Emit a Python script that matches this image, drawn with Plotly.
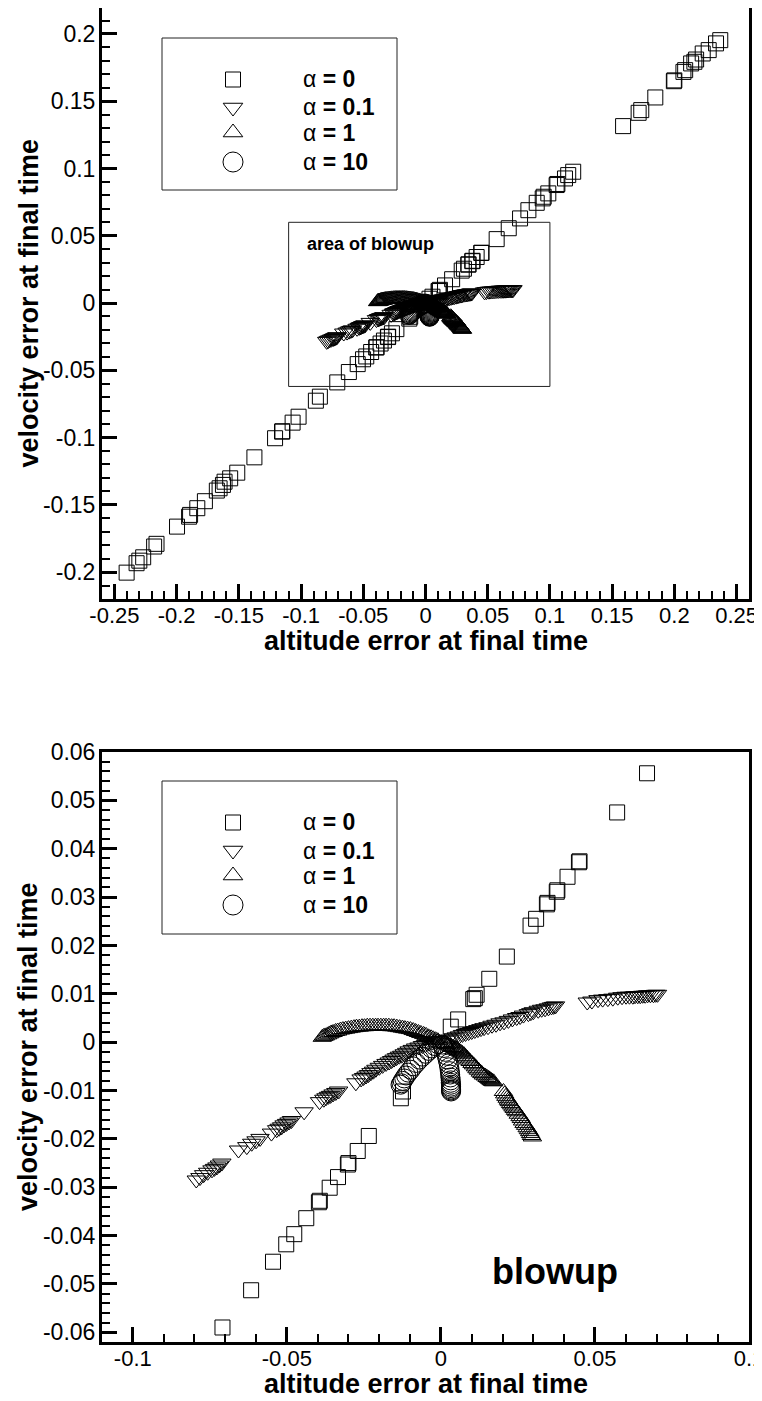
import plotly.graph_objects as go

# ---------------- data (altitude error h, velocity error v) ----------------
# alpha = 0 (squares)
sq_h = [-0.2402, -0.2322, -0.2300, -0.2269, -0.2181, -0.2162, -0.1997, -0.1900, -0.1892,
        -0.1834, -0.1773, -0.1677, -0.1655, -0.1628, -0.1615, -0.1570, -0.1513, -0.1375,
        -0.1209, -0.1153, -0.1150, -0.1068, -0.1020, -0.0881, -0.0849,
        -0.0709, -0.0616, -0.0545, -0.0502, -0.0476, -0.0437, -0.0396, -0.0393, -0.0361,
        -0.0334, -0.0302, -0.0300, -0.0270, -0.0234, -0.0130, -0.0123, 0.0032, 0.0056,
        0.0105, 0.0110, 0.0116, 0.0157, 0.0214, 0.0291, 0.0309, 0.0344, 0.0346, 0.0376,
        0.0378, 0.0411, 0.0448, 0.0450, 0.0572, 0.0669,
        0.0760, 0.0827, 0.0894, 0.0942, 0.0950, 0.0987, 0.1054, 0.1060, 0.1121, 0.1147,
        0.1187, 0.1588, 0.1713, 0.1734, 0.1847, 0.1996, 0.2000, 0.2073, 0.2087, 0.2135,
        0.2161, 0.2175, 0.2228, 0.2276, 0.2335, 0.2369]
sq_v = [-0.2004, -0.1934, -0.1915, -0.1890, -0.1810, -0.1790, -0.1662, -0.1588, -0.1575,
        -0.1525, -0.1473, -0.1394, -0.1377, -0.1352, -0.1328, -0.1303, -0.1261, -0.1147,
        -0.1005, -0.0956, -0.0953, -0.0889, -0.0845, -0.0726, -0.0696,
        -0.0590, -0.0513, -0.0454, -0.0418, -0.0397, -0.0364, -0.0331, -0.0328, -0.0301,
        -0.0279, -0.0253, -0.0250, -0.0225, -0.0194, -0.0116, -0.0102, 0.0032, 0.0047,
        0.0089, 0.0091, 0.0098, 0.0131, 0.0177, 0.0241, 0.0255, 0.0285, 0.0288, 0.0311,
        0.0314, 0.0342, 0.0372, 0.0374, 0.0475, 0.0556,
        0.0629, 0.0690, 0.0745, 0.0778, 0.0790, 0.0815, 0.0877, 0.0885, 0.0926, 0.0951,
        0.0976, 0.1315, 0.1414, 0.1434, 0.1528, 0.1649, 0.1655, 0.1718, 0.1731, 0.1781,
        0.1793, 0.1810, 0.1855, 0.1880, 0.1930, 0.1954]

# alpha = 0.1 (triangles down)
td_h = [-0.0794, -0.0782, -0.0770, -0.0757, -0.0743, -0.0735, -0.0727, -0.0719, -0.0711,
        -0.0657, -0.0630, -0.0614, -0.0600, -0.0587, -0.0550, -0.0533, -0.0525, -0.0517,
        -0.0509, -0.0501, -0.0493, -0.0485, -0.0444, -0.0394, -0.0380, -0.0373, -0.0365,
        -0.0358, -0.0350, -0.0341, -0.0332, -0.0276, -0.0259, -0.0251, -0.0243, -0.0235,
        -0.0227, -0.0219, -0.0211, -0.0200, -0.0189, -0.0178, -0.0168, -0.0160, -0.0152,
        -0.0144, -0.0135, -0.0127, -0.0119, -0.0111, -0.0103, -0.0093, -0.0082, -0.0071,
        -0.0060, -0.0050, -0.0039, -0.0028, -0.0017, -0.0008,
        0.0020, 0.0030, 0.0040, 0.0050, 0.0060, 0.0070, 0.0080, 0.0090, 0.0100, 0.0110,
        0.0120, 0.0130, 0.0140, 0.0153, 0.0166, 0.0179, 0.0192, 0.0205, 0.0219, 0.0232,
        0.0246, 0.0257, 0.0268, 0.0284, 0.0292, 0.0300, 0.0316, 0.0327, 0.0338, 0.0349,
        0.0359, 0.0366, 0.0372, 0.0475, 0.0490, 0.0510, 0.0525, 0.0542, 0.0558, 0.0574,
        0.0588, 0.0601, 0.0612, 0.0623, 0.0630, 0.0639, 0.0647, 0.0655, 0.0663, 0.0671,
        0.0680, 0.0690, 0.0697, 0.0703]
td_v = [-0.0285, -0.0280, -0.0274, -0.0269, -0.0264, -0.0261, -0.0258, -0.0254, -0.0250,
        -0.0223, -0.0216, -0.0209, -0.0204, -0.0199, -0.0188, -0.0181, -0.0178, -0.0175,
        -0.0171, -0.0168, -0.0165, -0.0162, -0.0144, -0.0123, -0.0118, -0.0115, -0.0112,
        -0.0110, -0.0107, -0.0104, -0.0101, -0.0084, -0.0076, -0.0073, -0.0070, -0.0067,
        -0.0063, -0.0060, -0.0056, -0.0052, -0.0048, -0.0044, -0.0041, -0.0038, -0.0035,
        -0.0032, -0.0029, -0.0027, -0.0024, -0.0021, -0.0018, -0.0015, -0.0012, -0.0010,
        -0.0007, -0.0005, -0.0002, 0.0000, 0.0003, 0.0002,
        0.0004, 0.0006, 0.0009, 0.0011, 0.0013, 0.0016, 0.0018, 0.0020, 0.0022, 0.0024,
        0.0026, 0.0028, 0.0030, 0.0032, 0.0035, 0.0037, 0.0040, 0.0042, 0.0045, 0.0048,
        0.0051, 0.0053, 0.0056, 0.0059, 0.0061, 0.0063, 0.0066, 0.0068, 0.0069, 0.0071,
        0.0073, 0.0074, 0.0075, 0.0083, 0.0085, 0.0088, 0.0089, 0.0090, 0.0091, 0.0093,
        0.0094, 0.0095, 0.0095, 0.0095, 0.0096, 0.0096, 0.0096, 0.0097, 0.0097, 0.0098,
        0.0098, 0.0098, 0.0099, 0.0099]

# alpha = 1 (triangles up)
tu_h = [-0.0385, -0.0380, -0.0375, -0.0368, -0.0362, -0.0356, -0.0350, -0.0342, -0.0335,
        -0.0326, -0.0318, -0.0309, -0.0300, -0.0291, -0.0282, -0.0274, -0.0265, -0.0256,
        -0.0248, -0.0239, -0.0230, -0.0221, -0.0212, -0.0204, -0.0195, -0.0186, -0.0178,
        -0.0169, -0.0160, -0.0152, -0.0143, -0.0134, -0.0125, -0.0117, -0.0108, -0.0099,
        -0.0090, -0.0082, -0.0073, -0.0065, -0.0056, -0.0048, -0.0040, -0.0032, -0.0025,
        -0.0017, -0.0010,
        0.0010, 0.0015, 0.0020, 0.0025, 0.0030, 0.0035, 0.0040, 0.0045, 0.0050, 0.0055,
        0.0060, 0.0065, 0.0069, 0.0075, 0.0080, 0.0085, 0.0090, 0.0095, 0.0101, 0.0106,
        0.0112, 0.0117, 0.0122, 0.0128, 0.0133, 0.0138, 0.0144, 0.0150, 0.0155, 0.0159,
        0.0163, 0.0167, 0.0171, 0.0203, 0.0207, 0.0211, 0.0215, 0.0219, 0.0222,
        0.0226, 0.0230, 0.0234, 0.0238, 0.0242, 0.0246, 0.0251, 0.0257, 0.0261, 0.0265,
        0.0270, 0.0275, 0.0280, 0.0284, 0.0288, 0.0291, 0.0294, 0.0297]
tu_v = [0.0010, 0.0012, 0.0013, 0.0015, 0.0017, 0.0019, 0.0020, 0.0022, 0.0023,
        0.0025, 0.0026, 0.0027, 0.0028, 0.0029, 0.0030, 0.0031, 0.0031, 0.0032,
        0.0032, 0.0033, 0.0033, 0.0033, 0.0033, 0.0033, 0.0033, 0.0033, 0.0033,
        0.0033, 0.0032, 0.0032, 0.0031, 0.0030, 0.0029, 0.0028, 0.0027, 0.0026,
        0.0024, 0.0022, 0.0020, 0.0018, 0.0016, 0.0014, 0.0011, 0.0009, 0.0007,
        0.0005, 0.0003,
        -0.0002, -0.0003, -0.0005, -0.0006, -0.0008, -0.0010, -0.0011, -0.0013, -0.0015, -0.0017,
        -0.0019, -0.0021, -0.0023, -0.0026, -0.0030, -0.0033, -0.0037, -0.0040, -0.0044, -0.0047,
        -0.0051, -0.0055, -0.0058, -0.0062, -0.0065, -0.0068, -0.0070, -0.0073, -0.0075, -0.0077,
        -0.0079, -0.0081, -0.0082, -0.0102, -0.0107, -0.0112, -0.0116, -0.0120, -0.0123,
        -0.0127, -0.0130, -0.0134, -0.0137, -0.0141, -0.0144, -0.0149, -0.0154, -0.0158, -0.0163,
        -0.0168, -0.0172, -0.0177, -0.0181, -0.0185, -0.0189, -0.0193, -0.0196]

# alpha = 10 (circles)
ci_h = [-0.0010, -0.0020, -0.0030, -0.0040, -0.0050, -0.0060, -0.0070, -0.0080, -0.0090,
        -0.0098, -0.0106, -0.0113, -0.0119, -0.0124, -0.0128, -0.0131,
        0.0005, 0.0010, 0.0015, 0.0019, 0.0022, 0.0025, 0.0027, 0.0029, 0.0030, 0.0031,
        0.0032, 0.0032, 0.0033, 0.0033, 0.0033, 0.0033, 0.0033, 0.0033]
ci_v = [-0.0004, -0.0008, -0.0013, -0.0018, -0.0024, -0.0030, -0.0036, -0.0043, -0.0050,
        -0.0057, -0.0063, -0.0069, -0.0075, -0.0080, -0.0085, -0.0088,
        -0.0005, -0.0012, -0.0020, -0.0028, -0.0036, -0.0044, -0.0052, -0.0060, -0.0067, -0.0073,
        -0.0079, -0.0084, -0.0088, -0.0092, -0.0095, -0.0098, -0.0100, -0.0102]

series_names = ["α = 0", "α = 0.1", "α = 1", "α = 10"]

# tick labels
top_x_ticks = [-0.25, -0.2, -0.15, -0.1, -0.05, 0, 0.05, 0.1, 0.15, 0.2, 0.25]
top_x_text = ["-0.25", "-0.2", "-0.15", "-0.1", "-0.05", "0", "0.05", "0.1", "0.15", "0.2", "0.25"]
top_y_ticks = [-0.2, -0.15, -0.1, -0.05, 0, 0.05, 0.1, 0.15, 0.2]
top_y_text = ["-0.2", "-0.15", "-0.1", "-0.05", "0", "0.05", "0.1", "0.15", "0.2"]
bot_x_ticks = [-0.1, -0.05, 0, 0.05, 0.1]
bot_x_text = ["-0.1", "-0.05", "0", "0.05", "0.1"]
bot_y_ticks = [-0.06, -0.05, -0.04, -0.03, -0.02, -0.01, 0, 0.01, 0.02, 0.03, 0.04, 0.05, 0.06]
bot_y_text = ["-0.06", "-0.05", "-0.04", "-0.03", "-0.02", "-0.01", "0", "0.01", "0.02",
              "0.03", "0.04", "0.05", "0.06"]

# ---------------- layout constants ----------------
W, H = 762, 1401
OFF = 8                            # page body margin of the html page
TOP_BOX = (102, 749, 8, 599)      # left, right, top, bottom (screen px)
BOT_BOX = (102, 749, 752, 1342)
TOP_XR, TOP_YR = [-0.26, 0.26], [-0.22, 0.2193]
BOT_XR, BOT_YR = [-0.11, 0.1], [-0.062, 0.06]
FONT = "Liberation Sans, Arial, sans-serif"


def px(x):
    return (x - OFF) / W


def py(y):
    return 1 - (y - OFF) / H


def clamp(v):
    return max(0.0, min(1.0, v))


def xdom(b):
    return [clamp(px(b[0])), clamp(px(b[1]))]


def ydom(b):
    return [clamp(py(b[3])), clamp(py(b[2]))]


symbols = ["square-open", "triangle-down-open", "triangle-up-open", "circle-open"]
sizes = [15, 16, 16, 19]
data = [(sq_h, sq_v), (td_h, td_v), (tu_h, tu_v), (ci_h, ci_v)]

fig = go.Figure()
for xa, ya in (("x", "y"), ("x2", "y2")):
    for (hh, vv), sym, sz, nm in zip(data, symbols, sizes, series_names):
        fig.add_trace(go.Scatter(
            x=hh, y=vv, mode="markers", name=nm, xaxis=xa, yaxis=ya,
            showlegend=False, cliponaxis=True,
            marker=dict(symbol=sym, size=sz, color="black", line=dict(width=1, color="black")),
        ))

# custom legends (overlay axes in screen-pixel space)
LEG_X = (162, 397)
LEG_TOPS = [(38, 190), (781, 934)]
LEG_SYM_X = 233
LEG_TXT_X = 301
LEG_ROW_OFF = [41.5, 69.5, 94.5, 124]
LEG_SIZES = [15, 17, 17, 20]

shapes = []
annotations = []
for (y0, y1) in LEG_TOPS:
    shapes.append(dict(type="rect", xref="paper", yref="paper", x0=px(LEG_X[0]), x1=px(LEG_X[1]),
                       y0=py(y1), y1=py(y0), line=dict(color="#222", width=1)))
    for i, nm in enumerate(series_names):
        yy = y0 + LEG_ROW_OFF[i]
        fig.add_trace(go.Scatter(
            x=[LEG_SYM_X], y=[yy], mode="markers", xaxis="x3", yaxis="y3", showlegend=False,
            hoverinfo="skip",
            marker=dict(symbol=symbols[i], size=LEG_SIZES[i], color="black",
                        line=dict(width=1, color="black"))))
        a, rest = nm.split(" ", 1)
        annotations.append(dict(text=a + "<b> " + rest + "</b>", xref="paper", yref="paper",
                                x=px(LEG_TXT_X), y=py(yy), xanchor="left", yanchor="middle",
                                showarrow=False, font=dict(family=FONT, size=23, color="black")))

# blowup rectangle on the top plot
shapes.append(dict(type="rect", xref="x", yref="y", x0=BOT_XR[0], x1=BOT_XR[1],
                   y0=BOT_YR[0], y1=BOT_YR[1], line=dict(color="#222", width=1)))
annotations.append(dict(text="<b>area of blowup</b>", xref="paper", yref="paper",
                        x=px(305), y=py(244), xanchor="left", yanchor="middle", showarrow=False,
                        font=dict(family=FONT, size=18, color="black")))
annotations.append(dict(text="<b>blowup</b>", xref="paper", yref="paper",
                        x=px(555), y=py(1271), xanchor="center", yanchor="middle", showarrow=False,
                        font=dict(family=FONT, size=36, color="black")))

# axis titles
for box in (TOP_BOX, BOT_BOX):
    cx = (box[0] + box[1]) / 2
    cy = (box[2] + box[3]) / 2
    annotations.append(dict(text="<b>altitude error at final time</b>", xref="paper", yref="paper",
                            x=px(cx), y=py(box[3] + 42), xanchor="center", yanchor="middle",
                            showarrow=False, font=dict(family=FONT, size=27, color="black")))
    annotations.append(dict(text="<b>velocity error at final time</b>", xref="paper", yref="paper",
                            x=px(28), y=py(cy), xanchor="center", yanchor="middle", textangle=-90,
                            showarrow=False, font=dict(family=FONT, size=27, color="black")))


def axis(dom, rng, tv, tt, minor_dt, anchor, standoff, fsize):
    return dict(domain=dom, range=rng, tickmode="array", tickvals=tv, ticktext=tt,
                ticks="inside", ticklen=15, tickwidth=3, tickcolor="black",
                minor=dict(tickmode="linear", tick0=0, dtick=minor_dt, ticks="inside",
                           ticklen=8, tickwidth=1.5, tickcolor="black", showgrid=False),
                showline=True, linewidth=3, linecolor="black", mirror=True,
                showgrid=False, zeroline=False, anchor=anchor, automargin=False,
                ticklabeloverflow="allow",
                tickfont=dict(family=FONT, size=fsize, color="black"), ticklabelstandoff=standoff)


fig.update_layout(
    template="none",
    width=W, height=H, margin=dict(l=0, r=0, t=0, b=0, autoexpand=False),
    paper_bgcolor="white", plot_bgcolor="rgba(0,0,0,0)", showlegend=False,
    font=dict(family=FONT, color="black"),
    xaxis=axis(xdom(TOP_BOX), TOP_XR, top_x_ticks, top_x_text, 0.01, "y", -5, 22),
    yaxis=axis(ydom(TOP_BOX), TOP_YR, top_y_ticks, top_y_text, 0.01, "x", -1, 23),
    xaxis2=axis(xdom(BOT_BOX), BOT_XR, bot_x_ticks, bot_x_text, 0.01, "y2", -5, 22),
    yaxis2=axis(ydom(BOT_BOX), BOT_YR, bot_y_ticks, bot_y_text, 0.002, "x2", -1, 23),
    xaxis3=dict(domain=[0, 1], range=[OFF, W + OFF], visible=False, anchor="y3", fixedrange=True),
    yaxis3=dict(domain=[0, 1], range=[H + OFF, OFF], visible=False, anchor="x3", fixedrange=True),
    shapes=shapes, annotations=annotations,
)

fig.write_html("out.html")
